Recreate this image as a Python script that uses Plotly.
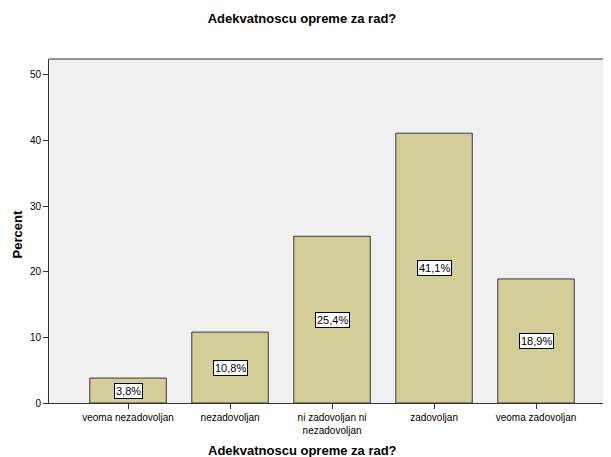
import plotly.graph_objects as go

categories = ["veoma nezadovoljan", "nezadovoljan", "ni zadovoljan ni<br>nezadovoljan",
              "zadovoljan", "veoma zadovoljan"]
percent = [3.8, 10.8, 25.4, 41.1, 18.9]
labels = ["3,8%", "10,8%", "25,4%", "41,1%", "18,9%"]
y_ticks = [0, 10, 20, 30, 40, 50]

font = "Liberation Sans, Arial, sans-serif"

# page body has an 8px margin, so the figure is shrunk to fit the window
W, H = 603, 449
L, T, B, R = 41, 51, 54, 0
plot_w = W - L - R
plot_h = H - T - B

fig = go.Figure()
fig.add_trace(go.Bar(
    x=list(range(len(categories))), y=percent,
    width=0.75,
    marker=dict(color="#D3CE98", line=dict(color="#3a3a3a", width=1)),
    hoverinfo="skip",
))

# value boxes in the middle of each bar
for i, (v, t) in enumerate(zip(percent, labels)):
    fig.add_annotation(x=i, y=v / 2, text=t, showarrow=False,
                       font=dict(family=font, size=11, color="black"),
                       bgcolor="white", bordercolor="black", borderwidth=1, borderpad=1)

# axis titles
fig.add_annotation(text="<b>Percent</b>", xref="paper", yref="paper",
                   x=-32 / plot_w, y=0.49, xanchor="center", yanchor="middle",
                   showarrow=False, textangle=-90,
                   font=dict(family=font, size=13, color="black"))
fig.add_annotation(text="<b>Adekvatnoscu opreme za rad?</b>", xref="paper", yref="paper",
                   x=(302 - 49) / plot_w, y=-47 / plot_h, xanchor="center", yanchor="middle",
                   showarrow=False, font=dict(family=font, size=13, color="black"))

fig.update_layout(
    width=W, height=H,
    margin=dict(l=L, r=R, t=T, b=B),
    paper_bgcolor="white",
    plot_bgcolor="#F0F0F0",
    showlegend=False,
    title=dict(text="<b>Adekvatnoscu opreme za rad?</b>", x=(302 - 8) / W, xanchor="center",
               y=1 - 10 / H, yanchor="middle",
               font=dict(family=font, size=13, color="black")),
    font=dict(family=font, size=10, color="black"),
)

fig.update_xaxes(
    range=[-0.775, 4.735],
    tickvals=list(range(len(categories))), ticktext=categories,
    ticks="outside", ticklen=5, tickcolor="#333",
    showline=True, linecolor="#333", linewidth=1,
    showgrid=False, zeroline=False,
    tickfont=dict(family=font, size=10, color="black"),
)
fig.update_yaxes(
    range=[0, 52.4], tickvals=y_ticks,
    ticks="outside", ticklen=5, tickcolor="#333",
    showline=True, linecolor="#333", linewidth=1,
    showgrid=False, zeroline=False,
    tickfont=dict(family=font, size=10, color="black"),
)

# top frame line
fig.add_shape(type="line", xref="paper", yref="paper", x0=0, x1=1, y0=1, y1=1,
              line=dict(color="#333", width=1))

fig.write_html("out.html")
